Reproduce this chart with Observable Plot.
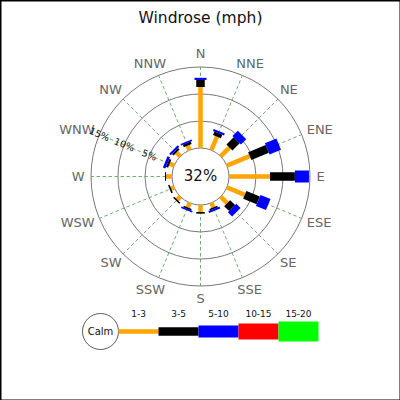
<!DOCTYPE html>
<html>
<head>
<meta charset="utf-8">
<script src="https://cdn.jsdelivr.net/npm/d3@7"></script>
<script src="https://cdn.jsdelivr.net/npm/@observablehq/plot@0.6"></script>
<style>
  body { margin: 0; background: #fff; }
  svg { display: block; }
</style>
</head>
<body>
<div id="chart"></div>
<script>
const title = "Windrose (mph)";
const calmPct = 32;
const directions = ["N","NNE","NE","ENE","E","ESE","SE","SSE","S","SSW","SW","WSW","W","WNW","NW","NNW"];
const speedBins = ["1-3","3-5","5-10","10-15","15-20"];
const binColors = ["#FFA500","#000000","#0000FF","#FF0000","#00FF00"];
const binWidths = [4.5, 8.5, 12, 16, 20];
// percentage of observations per direction, per speed bin
const pct1to3   = [11.3, 2.7, 2.3, 4.6, 7.6, 3.6, 1.7, 0.9, 1.3, 0.9, 0.8, 0.6, 1.1, 0.9, 1.0, 0.9];
const pct3to5   = [1.3, 0.7, 1.9, 3.5, 4.6, 2.7, 1.3, 0.3, 0.3, 0.3, 0.3, 0.3, 0.2, 0.4, 0.4, 0.5];
const pct5to10  = [0.4, 0.4, 1.4, 2.3, 2.6, 2.0, 1.1, 0.4, 0.0, 0.3, 0.0, 0.0, 0.0, 0.5, 0.4, 0.3];
const pct10to15 = [0,0,0,0,0,0,0,0,0,0,0,0,0,0,0,0];
const pct15to20 = [0,0,0,0,0,0,0,0,0,0,0,0,0,0,0,0];
const ringPcts = [5, 10, 15];

// radial mapping (in chart units: calm circle radius + scaled percentage)
const calmR = 28.5;
const perPct = 5.4;
const rad = p => calmR + p * perPct;
const outerR = rad(15);
const labelR = 116;
const labelFont = 13;
const ang = i => i * Math.PI / 8;

const binSeries = [pct1to3, pct3to5, pct5to10, pct10to15, pct15to20];
const segs = [];
directions.forEach((d, i) => {
  let cum = 0;
  binSeries.forEach((s, b) => {
    const v = s[i];
    if (v > 0) {
      const a = ang(i);
      const r1 = rad(cum), r2 = rad(cum + v);
      segs.push({dir: d, bin: b,
        x1: r1 * Math.sin(a), y1: r1 * Math.cos(a),
        x2: r2 * Math.sin(a), y2: r2 * Math.cos(a)});
    }
    cum += v;
  });
});

const spokes = directions.map((d, i) => ({
  x1: calmR * Math.sin(ang(i)), y1: calmR * Math.cos(ang(i)),
  x2: outerR * Math.sin(ang(i)), y2: outerR * Math.cos(ang(i))
}));

// place each direction label just outside the rose, offset by half its box
const ctx = document.createElement("canvas").getContext("2d");
ctx.font = `${labelFont}px "DejaVu Sans"`;
const dirLabels = directions.map((d, i) => {
  const s = Math.sin(ang(i)), c = Math.cos(ang(i));
  const w = ctx.measureText(d).width, h = labelFont * 0.95;
  return {text: d, x: labelR * s + (w / 2) * s, y: labelR * c + (h / 2) * c};
});
const wnw = ang(13);
const ringLabels = ringPcts.map(p => ({
  text: p + "%", x: rad(p) * Math.sin(wnw), y: rad(p) * Math.cos(wnw)
}));

// legend layout (chart units)
const legY = -155, legX0 = -82, legStep = 40;
const legend = speedBins.map((b, i) => ({
  label: b, x1: legX0 + i * legStep, x2: legX0 + (i + 1) * legStep, i
}));

const marks = [
  Plot.frame({stroke: "black", strokeWidth: 2}),
  Plot.text([title], {frameAnchor: "top", dy: 11, lineAnchor: "top", fontSize: 15.5, fill: "#111"}),
  // rings
  Plot.dot(ringPcts, {x: 0, y: 0, r: p => rad(p), stroke: "#555", strokeWidth: 0.8, fill: "none"}),
  // spokes
  Plot.link(spokes, {x1: "x1", y1: "y1", x2: "x2", y2: "y2", stroke: "#4a9a4a", strokeWidth: 0.8, strokeDasharray: "3.5,2.5"}),
  // calm circle
  Plot.dot([calmPct], {x: 0, y: 0, r: calmR, stroke: "#555", strokeWidth: 0.8, fill: "white"}),
  Plot.text([calmPct + "%"], {x: 0, y: 0, fontSize: 15, fill: "#111"}),
  // bars
  ...speedBins.map((b, bi) => Plot.link(segs.filter(s => s.bin === bi), {
    x1: "x1", y1: "y1", x2: "x2", y2: "y2",
    stroke: binColors[bi], strokeWidth: binWidths[bi], strokeLinecap: "butt"
  })),
  // direction labels
  Plot.text(dirLabels, {x: "x", y: "y", text: "text", fontSize: labelFont, fill: "#666"}),
  // ring labels
  Plot.text(ringLabels, {x: "x", y: "y", text: "text", fontSize: 9.5, fill: "#111", rotate: 22.5}),
  // legend
  Plot.dot([0], {x: -100, y: legY, r: 18, stroke: "#333", strokeWidth: 0.8, fill: "white"}),
  Plot.text(["Calm"], {x: -100, y: legY, fontSize: 10, fill: "#111"}),
  ...legend.map(l => Plot.link([l], {x1: "x1", x2: "x2", y1: legY, y2: legY,
    stroke: binColors[l.i], strokeWidth: binWidths[l.i], strokeLinecap: "butt"})),
  Plot.text(legend, {x: l => (l.x1 + l.x2) / 2, y: legY + 17, text: "label", fontSize: 9, fill: "#111"})
];

const chart = Plot.plot({
  width: 400,
  height: 400,
  margin: 0,
  x: {domain: [-200, 200], axis: null},
  y: {domain: [-224, 176], axis: null},
  r: {type: "identity"},
  style: {fontFamily: "DejaVu Sans, sans-serif", background: "white"},
  marks
});
document.getElementById("chart").appendChild(chart);
</script>
</body>
</html>
